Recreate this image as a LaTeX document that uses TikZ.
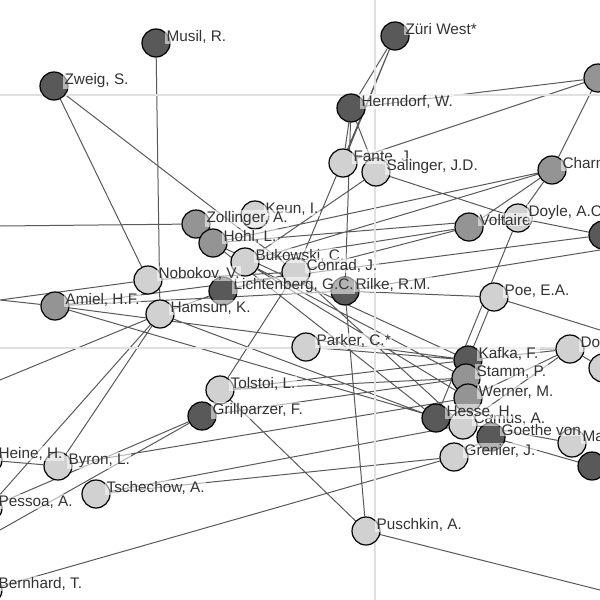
\documentclass[tikz,border=0pt]{standalone}
\usepackage{fontspec}
\setmainfont{Liberation Sans}
\usetikzlibrary{backgrounds,calc}
\tikzset{
 x=0.75pt,y=-0.75pt,
 nd/.style={circle,draw=black,line width=0.9pt,minimum size=21pt,inner sep=0pt},
 dk/.style={nd,fill=black!65},
 md/.style={nd,fill=black!42},
 lt/.style={nd,fill=black!18},
 lab/.style={anchor=base west,font=\fontsize{11.5}{12}\selectfont,text=black!80,fill=white,fill opacity=0.55,text opacity=1,inner sep=1pt},
 ed/.style={draw=black!65,line width=0.75pt},
}
\newcommand\NL[2]{\node[lab] at ($(#1)+(9,-2)$) {#2};}
\begin{document}
\begin{tikzpicture}
\useasboundingbox (0,0) rectangle (600,600);
\clip (0,0) rectangle (600,600);
\draw[black!12,line width=1pt] (375,0)--(375,600) (0,95)--(600,95) (0,348)--(600,348);
% nodes
\node[dk] (musil) at (156,43) {};
\node[dk] (zuri) at (395,36) {};
\node[dk] (zweig) at (54,86) {};
\node[dk] (herr) at (351,108) {};
\node[md] (ne) at (598,78) {};
\node[lt] (fante) at (343,163) {};
\node[lt] (sal) at (376,172) {};
\node[md] (charms) at (552,170) {};
\node[md] (volt) at (469,227) {};
\node[lt] (doyle) at (518,218) {};
\node[dk] (re) at (603,235) {};
\node[lt] (keun) at (255,215) {};
\node[md] (zoll) at (196,224) {};
\node[md] (hohl) at (213,243) {};
\node[lt] (buk) at (245,262) {};
\node[lt] (conrad) at (296,272) {};
\node[dk] (rilke) at (345,291) {};
\node[dk] (licht) at (223,291) {};
\node[lt] (nob) at (148,280) {};
\node[md] (amiel) at (55,306) {};
\node[lt] (hamsun) at (160,314) {};
\node[lt] (poe) at (494,297) {};
\node[lt] (parker) at (306,347) {};
\node[lt] (dos) at (570,349) {};
\node[lt] (re2) at (603,368) {};
\node[dk] (kafka) at (468,360) {};
\node[md] (stamm) at (466,378) {};
\node[md] (werner) at (468,398) {};
\node[dk] (hesse) at (436,418) {};
\node[lt] (camus) at (463,425) {};
\node[dk] (goethe) at (491,437) {};
\node[lt] (grenier) at (454,457) {};
\node[lt] (mar) at (572,443) {};
\node[dk] (s) at (592,466) {};
\node[lt] (tolstoi) at (220,390) {};
\node[dk] (grill) at (202,416) {};
\node[lt] (byron) at (58,466) {};
\node[lt] (tsch) at (96,494) {};
\node[lt] (pusch) at (366,531) {};
\node[lt] (le1) at (-12,460) {};
\node[lt] (le2) at (-12,508) {};
\node[lt] (le3) at (-12,590) {};
\coordinate (l1) at (0,226);
\coordinate (l2) at (0,300);
\coordinate (l3) at (0,380);
\coordinate (l4) at (0,530);
\coordinate (br) at (600,590);
\coordinate (r1) at (600,250);
\coordinate (r2) at (600,330);
\begin{scope}[on background layer]
\draw[ed] (musil)--(hamsun) (zweig)--(nob) (zweig)--(conrad)
 (zuri)--(herr) (zuri)--(fante) (zuri)--(conrad)
 (herr)--(rilke) (herr)--(sal) (herr)--(fante) (herr)--(ne)
 (ne)--(charms) (ne)--(fante) (sal)--(doyle) (sal)--(buk)
 (charms)--(volt) (charms)--(hohl) (charms)--(buk) (charms)--(doyle)
 (volt)--(buk) (volt)--(conrad) (volt)--(licht)
 (doyle)--(hesse) (doyle)--(hohl) (re)--(doyle) (re)--(amiel)
 (zoll)--(l1) (zoll)--(hohl) (hohl)--(hesse) (hohl)--(kafka)
 (buk)--(stamm) (buk)--(werner) (conrad)--(camus) (conrad)--(tolstoi)
 (rilke)--(pusch) (rilke)--(poe) (rilke)--(amiel) (rilke)--(r1)
 (licht)--(hamsun) (licht)--(conrad) (nob)--(l2) (nob)--(conrad)
 (amiel)--(kafka) (amiel)--(camus) (hamsun)--(byron) (hamsun)--(hesse) (hamsun)--(l3)
 (parker)--(kafka) (parker)--(dos) (kafka)--(poe) (kafka)--(tolstoi) (kafka)--(dos)
 (stamm)--(tolstoi) (stamm)--(grill) (werner)--(dos) (werner)--(byron)
 (hesse)--(mar) (camus)--(dos) (goethe)--(s) (goethe)--(grenier)
 (grenier)--(tsch) (grenier)--(le3) (pusch)--(br) (pusch)--(tolstoi)
 (grill)--(l4) (tsch)--(camus) (byron)--(le1) (le2)--(grill) (poe)--(r2) (dos)--(re2)
 (amiel)--(l2) (le2)--(hamsun);
\end{scope}
\NL{musil}{Musil, R.}
\NL{zuri}{Züri West*}
\NL{zweig}{Zweig, S.}
\NL{herr}{Herrndorf, W.}
\NL{fante}{Fante, J.}
\NL{sal}{Salinger, J.D.}
\NL{charms}{Charms, D.}
\NL{volt}{Voltaire}
\NL{doyle}{Doyle, A.C.}
\NL{keun}{Keun, I.}
\NL{zoll}{Zollinger, A.}
\NL{hohl}{Hohl, L.}
\NL{buk}{Bukowski, C.}
\NL{rilke}{Rilke, R.M.}
\NL{conrad}{Conrad, J.}
\NL{licht}{Lichtenberg, G.C.}
\NL{nob}{Nobokov, V.}
\NL{amiel}{Amiel, H.F.}
\NL{hamsun}{Hamsun, K.}
\NL{poe}{Poe, E.A.}
\NL{parker}{Parker, C.*}
\NL{dos}{Dostojewski, F.}
\NL{kafka}{Kafka, F.}
\NL{stamm}{Stamm, P.}
\NL{werner}{Werner, M.}
\NL{camus}{Camus, A.}
\NL{hesse}{Hesse, H.}
\NL{goethe}{Goethe von}
\NL{grenier}{Grenier, J.}
\NL{mar}{Mann, T.}
\NL{s}{Schiller, F.}
\NL{tolstoi}{Tolstoi, L.}
\NL{grill}{Grillparzer, F.}
\NL{byron}{Byron, L.}
\NL{tsch}{Tschechow, A.}
\NL{pusch}{Puschkin, A.}
\NL{le1}{Heine, H.}
\NL{le2}{Pessoa, A.}
\NL{le3}{Bernhard, T.}
\end{tikzpicture}
\end{document}
